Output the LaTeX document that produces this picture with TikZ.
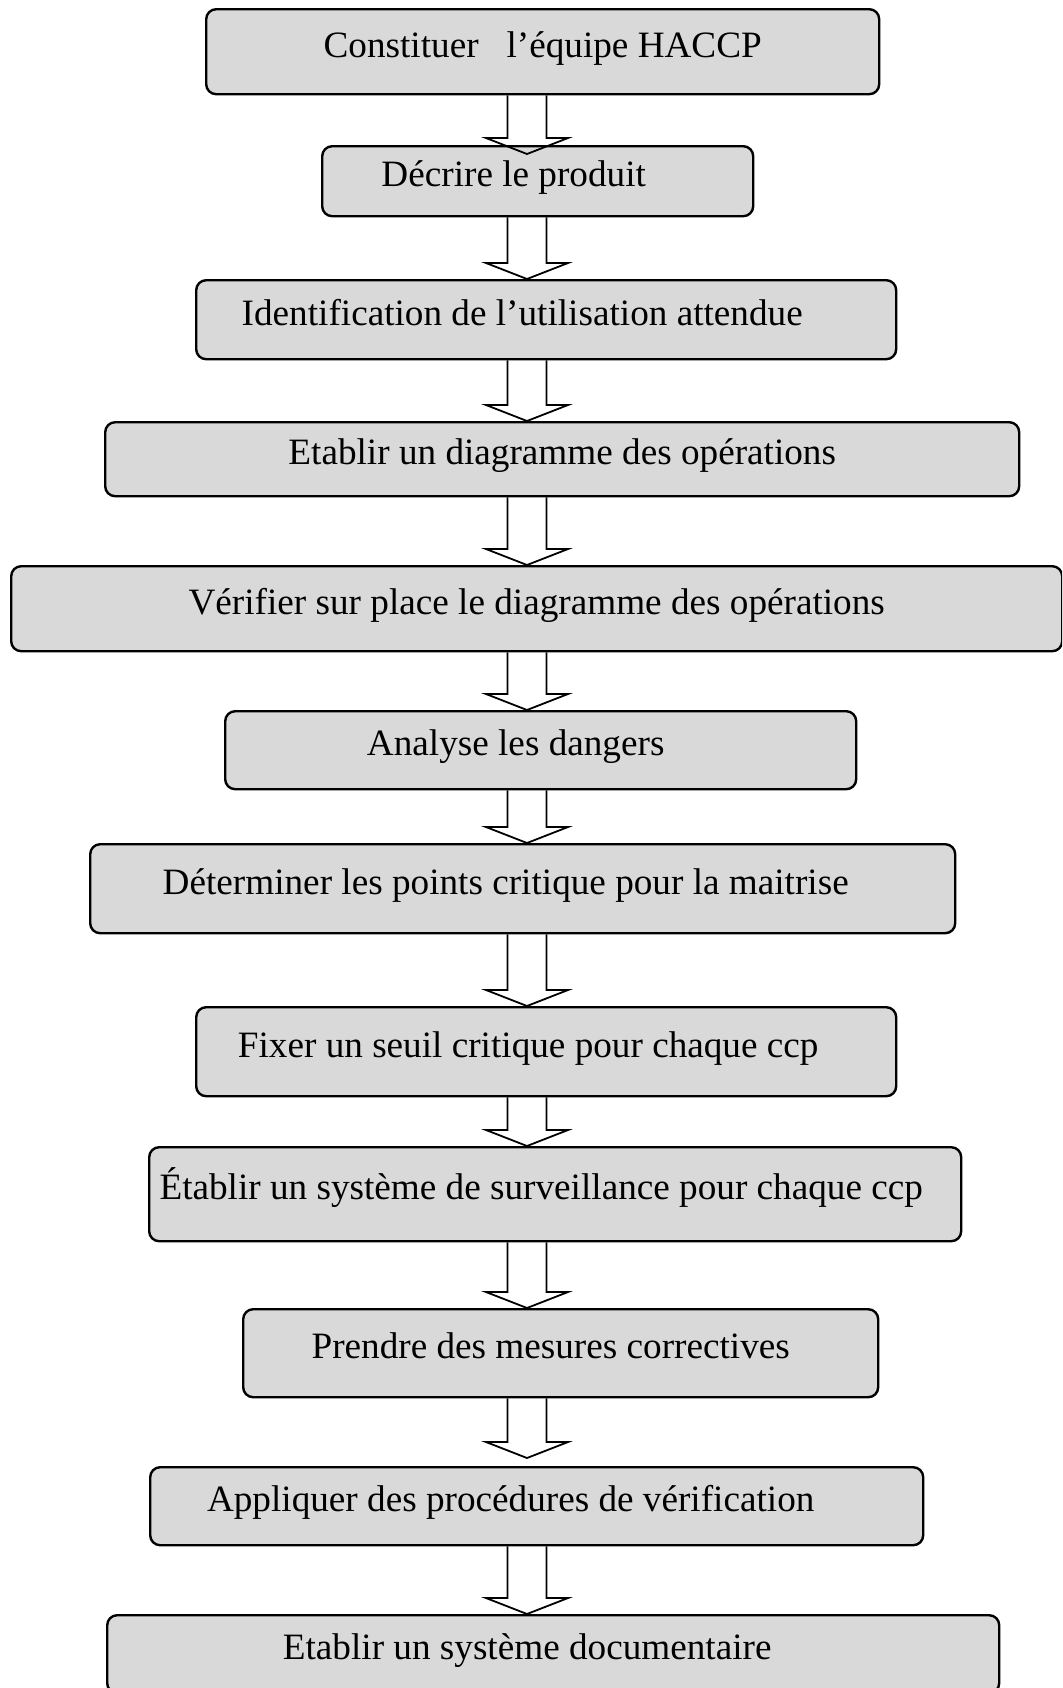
\documentclass[tikz,border=0pt]{standalone}
\usepackage{fontspec}
\setmainfont{Liberation Serif}
\usepackage{tikz}
\usetikzlibrary{calc}
\definecolor{boxgray}{RGB}{217,217,217}
\tikzset{
  stepbox/.style={draw,rounded corners=5pt,fill=boxgray,line width=1.2pt,anchor=north west,inner sep=0pt,text height=0.75em,text depth=0.22em,font=\fontsize{18.6}{22}\selectfont},
  hollow/.style={draw,line width=0.9pt,line join=miter}
}
\newcommand{\hollowarrow}[3][0pt]{%
  \draw[hollow] let \p1=(#2.south -| axis), \p2=($(#3.north -| axis)+(0,#1)$) in
    (\x1-9.75pt,\y1) -- (\x1-9.75pt,\y2+8pt) -- (\x1-20.5pt,\y2+8pt) -- (\x2,\y2)
    -- (\x1+20.5pt,\y2+8pt) -- (\x1+9.75pt,\y2+8pt) -- (\x1+9.75pt,\y1);}

\begin{document}
\begin{tikzpicture}[x=0.5pt,y=-0.5pt]
 \useasboundingbox (0,0) rectangle (1062,1688);
 \clip (0,0) rectangle (1062,1688);
 \coordinate (axis) at (527,0);
 \node[stepbox,minimum width=336.5pt,minimum height=42.5pt] (s1) at (205,8) {Constituer\ \ \ l’équipe HACCP};
 \node[stepbox,minimum width=215.5pt,minimum height=35pt] (s2) at (321,145) {Décrire le produit\hspace*{24pt}};
 \node[stepbox,minimum width=350pt,minimum height=39.5pt] (s3) at (195,279) {Identification de l’utilisation attendue\hspace*{24pt}};
 \node[stepbox,minimum width=457pt,minimum height=37pt] (s4) at (104,421) {Etablir un diagramme des opérations};
 \node[stepbox,minimum width=525.5pt,minimum height=42.5pt] (s5) at (10,565) {Vérifier sur place le diagramme des opérations};
 \node[stepbox,minimum width=315.5pt,minimum height=39pt] (s6) at (224,710) {Analyse les dangers\hspace*{25pt}};
 \node[stepbox,minimum width=432.5pt,minimum height=44.5pt] (s7) at (89,843) {Déterminer les points critique pour la maitrise\hspace*{17pt}};
 \node[stepbox,minimum width=350pt,minimum height=44.5pt] (s8) at (195,1006) {Fixer un seuil critique pour chaque ccp\hspace*{18pt}};
 \node[stepbox,minimum width=406pt,minimum height=47pt] (s9) at (148,1146) {Établir un système de surveillance pour chaque ccp\hspace*{14pt}};
 \node[stepbox,minimum width=317.5pt,minimum height=44pt] (s10) at (242,1308) {Prendre des mesures correctives\hspace*{10pt}};
 \node[stepbox,minimum width=386.5pt,minimum height=39pt] (s11) at (149,1466) {Appliquer des procédures de vérification\hspace*{26pt}};
 \node[stepbox,minimum width=446pt,minimum height=39pt] (s12) at (106,1614) {Etablir un système documentaire\hspace*{26pt}};
 % arrows between the steps
 \hollowarrow[-4.5pt]{s1}{s2}
 \hollowarrow{s2}{s3}
 \hollowarrow{s3}{s4}
 \hollowarrow{s4}{s5}
 \hollowarrow{s5}{s6}
 \hollowarrow{s6}{s7}
 \hollowarrow{s7}{s8}
 \hollowarrow{s8}{s9}
 \hollowarrow{s9}{s10}
 \hollowarrow[4pt]{s10}{s11}
 \hollowarrow{s11}{s12}
\end{tikzpicture}
\end{document}
